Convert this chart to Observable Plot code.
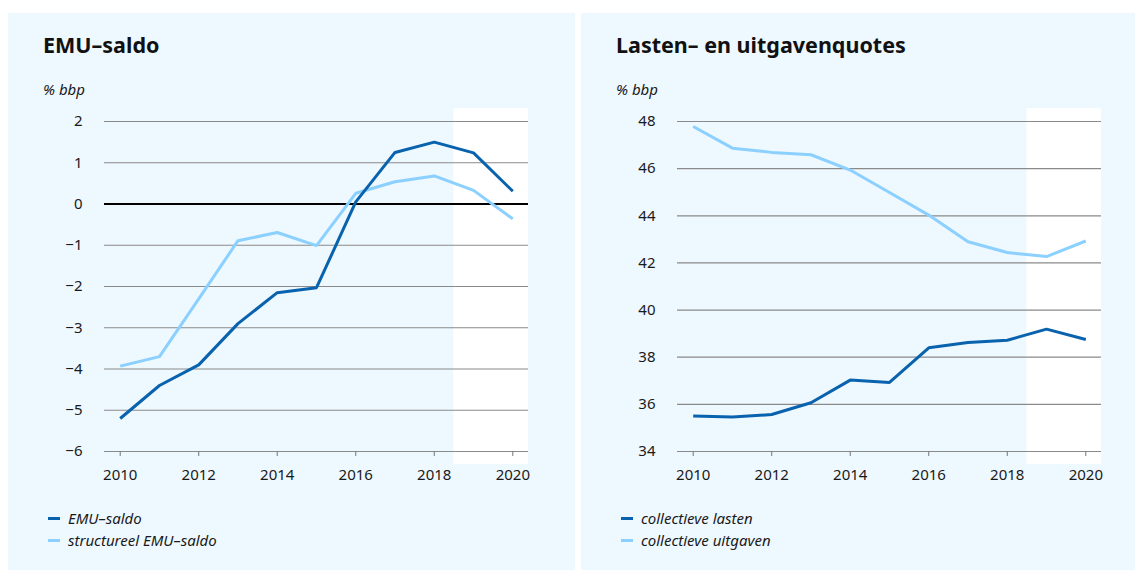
<!DOCTYPE html>
<html>
<head>
<meta charset="utf-8">
<script src="https://cdn.jsdelivr.net/npm/d3@7"></script>
<script src="https://cdn.jsdelivr.net/npm/@observablehq/plot@0.6"></script>
<style>
  html, body { margin: 0; padding: 0; background: #ffffff; }
  body { width: 1135px; height: 571px; position: relative; overflow: hidden; font-family: "Noto Sans", sans-serif; color: #1a1a1a; }
  .panel { position: absolute; top: 13px; height: 557px; background: #eef8ff; }
  .title { position: absolute; left: 35px; top: 20.5px; font-size: 21.5px; line-height: 21.5px; font-weight: 700; white-space: nowrap; color: #111; }
  .unit { position: absolute; left: 35px; top: 69px; font-size: 15px; line-height: 15px; font-style: italic; white-space: nowrap; }
  .chart { position: absolute; left: 0; top: 87px; }
  .legend { position: absolute; left: 40px; top: 495px; font-size: 15px; font-style: italic; }
  .legend .row { height: 21.5px; line-height: 21.5px; white-space: nowrap; }
  .legend .sw { display: inline-block; width: 12px; height: 3px; margin-right: 8px; vertical-align: middle; position: relative; top: -1px; }
</style>
</head>
<body>
<div class="panel" id="p1" style="left:8px;width:567px;">
  <div class="title">EMU–saldo</div>
  <div class="unit">% bbp</div>
  <div class="chart" id="c1"></div>
  <div class="legend" id="l1"></div>
</div>
<div class="panel" id="p2" style="left:581px;width:554px;">
  <div class="title">Lasten– en uitgavenquotes</div>
  <div class="unit">% bbp</div>
  <div class="chart" id="c2"></div>
  <div class="legend" id="l2"></div>
</div>
<script>
// ---- data ----
const years = [2010, 2011, 2012, 2013, 2014, 2015, 2016, 2017, 2018, 2019, 2020];
const emuSaldo = [-5.2, -4.4, -3.9, -2.9, -2.15, -2.03, 0.05, 1.25, 1.5, 1.24, 0.31];
const structSaldo = [-3.93, -3.7, -2.3, -0.89, -0.69, -1.01, 0.26, 0.54, 0.68, 0.33, -0.36];
const lasten = [35.51, 35.46, 35.57, 36.07, 37.03, 36.93, 38.4, 38.62, 38.72, 39.19, 38.75];
const uitgaven = [47.79, 46.87, 46.69, 46.59, 45.94, 44.99, 44.03, 42.9, 42.44, 42.27, 42.93];
const xTicks = [2010, 2012, 2014, 2016, 2018, 2020];
const yTicks1 = [-6, -5, -4, -3, -2, -1, 0, 1, 2];
const yTicks2 = [34, 36, 38, 40, 42, 44, 46, 48];
const forecastStart = 2018.5;
const xDomain = [2009.6, 2020.4];
const legend1 = ["EMU–saldo", "structureel EMU–saldo"];
const legend2 = ["collectieve lasten", "collectieve uitgaven"];

const DARK = "#0862ad";
const LIGHT = "#8bd0ff";

function makeChart({width, marginRight, yDomain, yTicks, yPad, seriesA, seriesB, zeroLine}) {
  const dataA = years.map((y, i) => ({year: y, v: seriesA[i]}));
  const dataB = years.map((y, i) => ({year: y, v: seriesB[i]}));
  const span = yDomain[1] - yDomain[0];
  const forecast = [{x1: forecastStart, x2: xDomain[1], y1: yDomain[0] - span * yPad, y2: yDomain[1] + span * yPad}];
  const marks = [
    Plot.rect(forecast, {x1: "x1", x2: "x2", y1: "y1", y2: "y2", fill: "#ffffff"}),
    Plot.ruleY(yTicks, {stroke: "#8a8a8a", strokeWidth: 1.2}),
  ];
  if (zeroLine) marks.push(Plot.ruleY([0], {stroke: "#000000", strokeWidth: 2}));
  marks.push(
    Plot.axisY(yTicks, {tickSize: 0, tickPadding: 22, fontSize: 15, fill: "#1a1a1a"}),
    Plot.axisX(xTicks, {tickSize: 5, tickPadding: 13, stroke: "#777", fontSize: 15, fill: "#1a1a1a", tickFormat: d => String(d)}),
    Plot.line(dataB, {x: "year", y: "v", stroke: LIGHT, strokeWidth: 3, strokeLinejoin: "miter", strokeLinecap: "butt"}),
    Plot.line(dataA, {x: "year", y: "v", stroke: DARK, strokeWidth: 3, strokeLinejoin: "miter", strokeLinecap: "butt"})
  );
  return Plot.plot({
    width, height: 400,
    marginLeft: 96, marginRight, marginTop: 21, marginBottom: 49,
    x: {domain: xDomain},
    y: {domain: yDomain},
    style: {background: "transparent", fontFamily: "Noto Sans, sans-serif", fontSize: "15px", overflow: "visible"},
    marks
  });
}

document.getElementById("c1").append(makeChart({
  width: 567, marginRight: 47, yDomain: [-6, 2], yTicks: yTicks1, yPad: 0.039,
  seriesA: emuSaldo, seriesB: structSaldo, zeroLine: true
}));
document.getElementById("c2").append(makeChart({
  width: 554, marginRight: 34, yDomain: [34, 48], yTicks: yTicks2, yPad: 0.039,
  seriesA: lasten, seriesB: uitgaven, zeroLine: false
}));

function makeLegend(el, labels) {
  const colors = [DARK, LIGHT];
  labels.forEach((t, i) => {
    const row = document.createElement("div");
    row.className = "row";
    const sw = document.createElement("span");
    sw.className = "sw";
    sw.style.background = colors[i];
    row.append(sw, document.createTextNode(t));
    el.append(row);
  });
}
makeLegend(document.getElementById("l1"), legend1);
makeLegend(document.getElementById("l2"), legend2);
</script>
</body>
</html>
